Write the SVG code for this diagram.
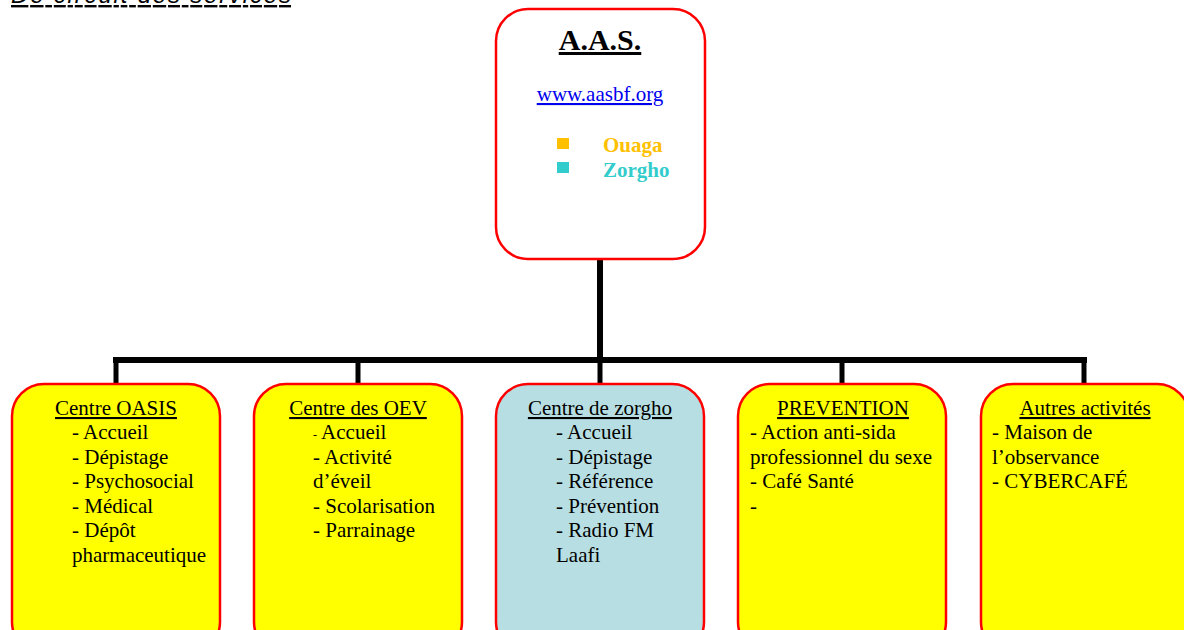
<svg xmlns="http://www.w3.org/2000/svg" width="1184" height="630" viewBox="0 0 1184 630">
<style>
text{font-family:"Liberation Serif","Times New Roman",serif;font-size:21px;fill:#000}
.box{stroke:#FF0000;stroke-width:2.5}
.y{fill:#FFFF00}
.b{fill:#B7DFE3}
.t{text-decoration:underline}
.ln{stroke:#000;stroke-width:6;fill:none}
</style>
<rect width="1184" height="630" fill="#fff"/>
<text x="11" y="3" style="font-family:'Liberation Sans',Arial,sans-serif;font-style:italic;font-size:24px;text-decoration:underline" textLength="280">De circuit des services</text>
<g id="connectors">
<path class="ln" d="M600 259V360M113 360H1087"/>
<path class="ln" d="M116 360V385M358 360V385M600 360V385M842 360V385M1084 360V385" style="stroke-width:5"/>
</g>
<g id="aas">
<rect class="box" x="496" y="9" width="209" height="250" rx="32" fill="#fff"/>
<text x="600" y="50" text-anchor="middle" class="t" style="font-weight:bold;font-size:30px">A.A.S.</text>
<text x="600" y="101" text-anchor="middle" class="t" style="fill:#0000EE">www.aasbf.org</text>
<rect x="557" y="138" width="12" height="11" fill="#FFC000"/>
<text x="603" y="152" style="font-weight:bold;fill:#FFC000">Ouaga</text>
<rect x="557" y="162" width="12" height="11" fill="#33CCCC"/>
<text x="603" y="177" style="font-weight:bold;fill:#33CCCC">Zorgho</text>
</g>
<g id="oasis">
<rect class="box y" x="12" y="384" width="208" height="270" rx="32"/>
<text x="116" y="415" text-anchor="middle" class="t">Centre OASIS</text>
<text x="72" y="439">- Accueil</text>
<text x="72" y="464">- Dépistage</text>
<text x="72" y="488">- Psychosocial</text>
<text x="72" y="513">- Médical</text>
<text x="72" y="537">- Dépôt</text>
<text x="72" y="562">pharmaceutique</text>
</g>
<g id="oev">
<rect class="box y" x="254" y="384" width="208" height="270" rx="32"/>
<text x="358" y="415" text-anchor="middle" class="t">Centre des OEV</text>
<text x="313" y="439"><tspan style="font-size:12px">-</tspan> Accueil</text>
<text x="313" y="464">-  Activité</text>
<text x="313" y="488">d’éveil</text>
<text x="313" y="513">- Scolarisation</text>
<text x="313" y="537">- Parrainage</text>
</g>
<g id="zorgho">
<rect class="box b" x="496" y="384" width="208" height="270" rx="32"/>
<text x="600" y="415" text-anchor="middle" class="t">Centre de zorgho</text>
<text x="556" y="439">- Accueil</text>
<text x="556" y="464">- Dépistage</text>
<text x="556" y="488">- Référence</text>
<text x="556" y="513">- Prévention</text>
<text x="556" y="537">- Radio FM</text>
<text x="556" y="562">Laafi</text>
</g>
<g id="prevention">
<rect class="box y" x="738" y="384" width="208" height="270" rx="32"/>
<text x="843" y="415" text-anchor="middle" class="t">PREVENTION</text>
<text x="750" y="439">- Action anti-sida</text>
<text x="750" y="464">professionnel du sexe</text>
<text x="750" y="488">- Café Santé</text>
<text x="750" y="513">-</text>
</g>
<g id="autres">
<rect class="box y" x="981" y="384" width="208" height="270" rx="32"/>
<text x="1085" y="415" text-anchor="middle" class="t">Autres activités</text>
<text x="992" y="439">- Maison de</text>
<text x="992" y="464">l’observance</text>
<text x="992" y="488">- CYBERCAFÉ</text>
</g>
</svg>
